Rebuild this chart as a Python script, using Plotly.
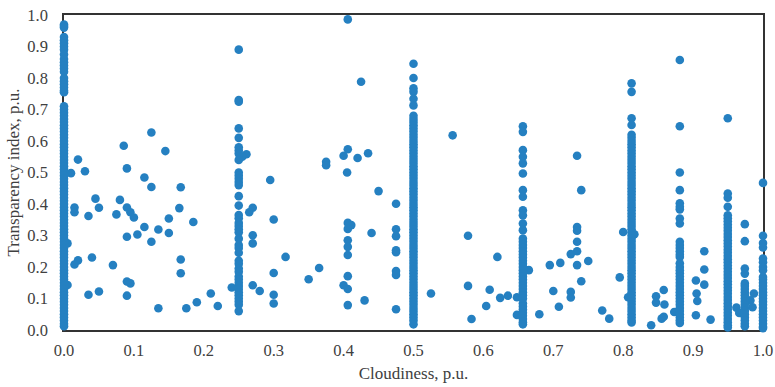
import plotly.graph_objects as go

# Columns of readings that share one cloudiness value
col_000 = [0.97,0.965,0.96,0.93,0.92,0.91,0.90,0.89,0.875,0.86,0.85,0.84,0.83,0.82,0.80,0.79,0.78,0.77,0.76,0.755,
           0.71,0.70,0.69,0.68,0.67,0.66,0.65,0.64,0.63,0.62,0.61,0.60,0.59,0.58,0.57,0.56,0.55,0.54,0.53,0.52,0.51,0.50,
           0.49,0.48,0.47,0.46,0.45,0.44,0.43,0.42,0.41,0.40,0.39,0.38,0.37,0.36,0.35,0.34,0.33,0.32,0.31,0.30,0.29,0.28,
           0.27,0.26,0.25,0.24,0.23,0.22,0.21,0.20,0.19,0.18,0.17,0.16,0.15,0.14,0.13,0.12,0.11,0.10,0.09,0.08,0.07,0.06,
           0.05,0.04,0.03,0.02,0.012]
col_025 = [0.89,0.73,0.725,0.64,0.61,0.58,0.57,0.56,0.54,0.50,0.49,0.48,0.47,0.46,0.425,0.395,0.365,0.355,0.34,0.33,
           0.32,0.31,0.29,0.27,0.26,0.245,0.22,0.21,0.195,0.185,0.17,0.16,0.15,0.14,0.13,0.12,0.11,0.10,0.09,0.08,0.06]
col_050 = [0.845,0.80,0.767,0.756,0.734,0.713,0.68,0.67,0.66,0.65,0.64,0.63,0.62,0.61,0.60,0.59,0.58,0.57,0.56,0.55,
           0.54,0.53,0.52,0.51,0.50,0.49,0.48,0.47,0.46,0.45,0.44,0.43,0.42,0.41,0.40,0.39,0.38,0.37,0.36,0.35,0.34,0.33,
           0.32,0.31,0.30,0.29,0.28,0.27,0.26,0.25,0.24,0.23,0.22,0.21,0.20,0.19,0.18,0.17,0.16,0.15,0.14,0.13,0.12,0.11,
           0.10,0.09,0.08,0.07,0.06,0.05,0.04,0.03,0.018]
col_066 = [0.647,0.629,0.571,0.55,0.529,0.497,0.444,0.423,0.38,0.364,0.338,0.317,0.29,0.28,0.27,0.26,0.25,0.24,0.23,
           0.22,0.21,0.20,0.19,0.18,0.17,0.16,0.15,0.14,0.13,0.12,0.11,0.10,0.085,0.075,0.065,0.055,0.045,0.035,0.025,0.018]
col_081 = [0.783,0.756,0.672,0.651,0.62,0.61,0.60,0.59,0.58,0.57,0.56,0.55,0.54,0.53,0.52,0.51,0.50,0.49,0.48,0.47,
           0.46,0.45,0.44,0.43,0.42,0.41,0.40,0.39,0.38,0.37,0.36,0.35,0.34,0.33,0.32,0.31,0.30,0.29,0.28,0.27,0.26,0.25,
           0.24,0.23,0.22,0.21,0.20,0.19,0.18,0.17,0.16,0.15,0.14,0.13,0.12,0.11,0.10,0.09,0.08,0.07,0.06,0.05,0.04,0.03,0.024]
col_088 = [0.857,0.647,0.50,0.444,0.402,0.391,0.383,0.354,0.338,0.28,0.27,0.26,0.25,0.24,0.232,0.212,0.20,0.19,0.18,
           0.17,0.16,0.15,0.14,0.13,0.12,0.11,0.10,0.09,0.08,0.07,0.06,0.05,0.04,0.03,0.022]
col_095 = [0.672,0.433,0.42,0.391,0.364,0.355,0.345,0.335,0.325,0.315,0.305,0.295,0.285,0.275,0.265,0.255,0.245,0.235,
           0.225,0.215,0.205,0.195,0.185,0.175,0.165,0.155,0.145,0.135,0.125,0.115,0.105,0.095,0.085,0.075,0.065,0.055,
           0.045,0.035,0.025,0.015,0.008]
col_097 = [0.336,0.282,0.195,0.179,0.148,0.14,0.13,0.12,0.11,0.10,0.09,0.08,0.07,0.06,0.05,0.04,0.03,0.02,0.012]
col_100 = [0.467,0.299,0.276,0.262,0.227,0.215,0.20,0.19,0.168,0.16,0.15,0.14,0.13,0.12,0.11,0.10,0.09,0.08,0.07,0.06,
           0.05,0.04,0.03,0.02,0.01,0.006]
col_x = [0.0,0.25,0.5,0.6565,0.812,0.881,0.9496,0.974,1.0]
col_y = [col_000,col_025,col_050,col_066,col_081,col_088,col_095,col_097,col_100]

# Scattered readings
loose_x = [0.020,0.010,0.030,0.0855,0.090,0.125,0.145,0.115,0.125,0.167,0.261,0.255,
           0.015,0.015,0.035,0.045,0.050,0.075,0.080,0.090,0.095,0.100,0.115,0.135,0.150,0.165,0.185,0.150,0.105,0.090,
           0.125,0.005,0.020,0.015,0.040,0.070,0.167,0.167,0.090,0.095,0.005,0.035,0.050,0.090,0.135,0.175,0.190,0.210,
           0.220,0.240,0.270,0.265,0.270,0.270,0.270,0.280,
           0.300,0.317,0.300,0.300,0.300,0.295,0.365,0.350,0.406,0.411,0.406,0.406,0.406,0.406,0.406,0.400,0.406,0.406,
           0.430,0.440,0.450,0.475,0.475,0.475,0.475,0.475,0.475,0.475,0.475,0.406,0.425,0.375,0.375,0.406,0.400,0.420,
           0.435,0.405,0.556,
           0.525,0.578,0.578,0.620,0.609,0.635,0.624,0.604,0.583,0.648,0.648,
           0.665,0.680,0.695,0.710,0.700,0.708,0.725,0.734,0.734,0.734,0.734,0.734,0.740,0.725,0.725,0.750,0.740,0.734,
           0.770,0.780,0.795,0.800,0.816,0.807,0.840,0.847,0.847,0.858,0.859,0.858,0.855,0.873,
           0.904,0.916,0.916,0.916,0.905,0.906,0.904,0.925,0.962,0.966,0.982,0.985,0.987]
loose_y = [0.541,0.498,0.504,0.585,0.513,0.627,0.568,0.484,0.454,0.453,0.558,0.55,
           0.389,0.374,0.362,0.417,0.388,0.367,0.413,0.389,0.374,0.357,0.327,0.319,0.354,0.387,0.343,0.308,0.303,0.296,
           0.280,0.275,0.221,0.208,0.230,0.206,0.224,0.180,0.154,0.148,0.143,0.112,0.122,0.109,0.069,0.069,0.088,0.116,
           0.076,0.135,0.388,0.374,0.301,0.275,0.142,0.124,
           0.351,0.232,0.181,0.112,0.084,0.476,0.197,0.161,0.340,0.333,0.321,0.285,0.264,0.238,0.171,0.142,0.130,0.079,
           0.094,0.308,0.441,0.401,0.320,0.298,0.253,0.247,0.187,0.175,0.066,0.986,0.788,0.534,0.523,0.574,0.553,0.546,
           0.561,0.500,0.618,
           0.116,0.299,0.140,0.232,0.128,0.109,0.102,0.076,0.035,0.104,0.048,
           0.190,0.050,0.206,0.213,0.124,0.074,0.241,0.250,0.280,0.327,0.315,0.206,0.155,0.121,0.103,0.219,0.444,0.553,
           0.062,0.036,0.167,0.311,0.304,0.104,0.015,0.107,0.087,0.127,0.081,0.042,0.036,0.057,
           0.157,0.250,0.192,0.144,0.116,0.092,0.047,0.033,0.071,0.054,0.094,0.072,0.116]

tick_vals = [0.0,0.1,0.2,0.3,0.4,0.5,0.6,0.7,0.8,0.9,1.0]
tick_text = ["0.0","0.1","0.2","0.3","0.4","0.5","0.6","0.7","0.8","0.9","1.0"]

xs = list(loose_x)
ys = list(loose_y)
for cx, cy in zip(col_x, col_y):
    xs += [cx] * len(cy)
    ys += cy

FONT = "Liberation Serif"
fig = go.Figure(go.Scatter(
    x=xs, y=ys, mode="markers",
    marker=dict(color="#2580C1", size=8.6, line=dict(width=0)),
    cliponaxis=False, showlegend=False,
))
axis_common = dict(
    range=[0, 1], tickmode="array", tickvals=tick_vals, ticktext=tick_text,
    showgrid=False, ticks="outside", tickcolor="rgba(0,0,0,0)",
    tickfont=dict(family=FONT, size=16.5, color="#404040"), layer="below traces",
    showline=True, linecolor="#333333", mirror=True, linewidth=1.5,
)
fig.update_xaxes(**axis_common, ticklen=4, zeroline=False,
                 title=dict(text="Cloudiness, p.u.", standoff=9, font=dict(family=FONT, size=17, color="#404040")))
fig.update_yaxes(**axis_common, ticklen=11, zeroline=True, zerolinecolor="#1a1a1a", zerolinewidth=2.5,
                 title=dict(text="Transparency index, p.u.", standoff=3, font=dict(family=FONT, size=17, color="#404040")))
fig.update_layout(
    width=775, height=387, margin=dict(l=63.5, r=12, t=15, b=57.3, autoexpand=False),
    paper_bgcolor="white", plot_bgcolor="white",
)
fig.write_html("out.html", config={"displayModeBar": False},
               post_script="document.body.style.margin='0';document.documentElement.style.overflow='hidden';")
